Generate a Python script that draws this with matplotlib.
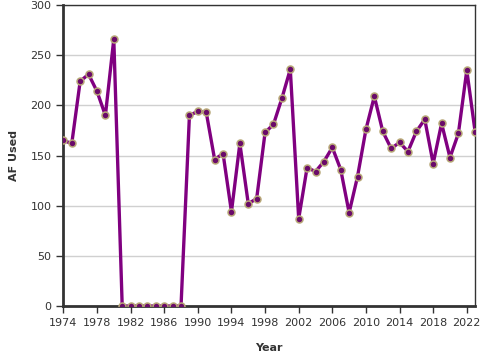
import numpy as np
import matplotlib
matplotlib.use("Agg")
import matplotlib.pyplot as plt

years = np.arange(1974, 2024)
af_used = [165, 162, 224, 231, 214, 190, 266,
           0, 0, 0, 0, 0, 0, 0, 0,
           190, 194, 193, 146, 152, 94, 162, 102, 107, 173, 181, 207, 236,
           87, 138, 134, 144, 158, 136, 93, 129, 176, 209, 174, 157, 163,
           154, 174, 186, 142, 182, 148, 172, 235, 173]
x_ticks = np.arange(1974, 2023, 4)
y_ticks = np.arange(0, 301, 50)

fig = plt.figure(figsize=(4.8, 3.6), dpi=100)
ax = fig.add_axes([0.132, 0.15, 0.858, 0.836])

ax.plot(years, af_used, color="#800080", linewidth=2.4, zorder=3,
        marker="o", markersize=5, markerfacecolor="#6a0a6a",
        markeredgecolor="#b8a878", markeredgewidth=1.1)

ax.set_xlim(1974, 2023)
ax.set_ylim(0, 300)
ax.set_xticks(x_ticks)
ax.set_yticks(y_ticks)
ax.grid(axis="y", color="#d0d0d0", linewidth=1)
ax.set_axisbelow(True)

for side in ["left", "bottom"]:
    ax.spines[side].set_linewidth(2)
    ax.spines[side].set_color("#333333")
for side in ["top", "right"]:
    ax.spines[side].set_linewidth(1)
    ax.spines[side].set_color("#333333")

ax.tick_params(axis="both", labelsize=8, length=5, width=1, color="#333333",
               labelcolor="#333333")
ax.set_xlabel("Year", fontsize=8, fontweight="bold", color="#333333", labelpad=11)
ax.set_ylabel("AF Used", fontsize=8, fontweight="bold", color="#333333", labelpad=8)

fig.savefig("out.png", dpi=100)
